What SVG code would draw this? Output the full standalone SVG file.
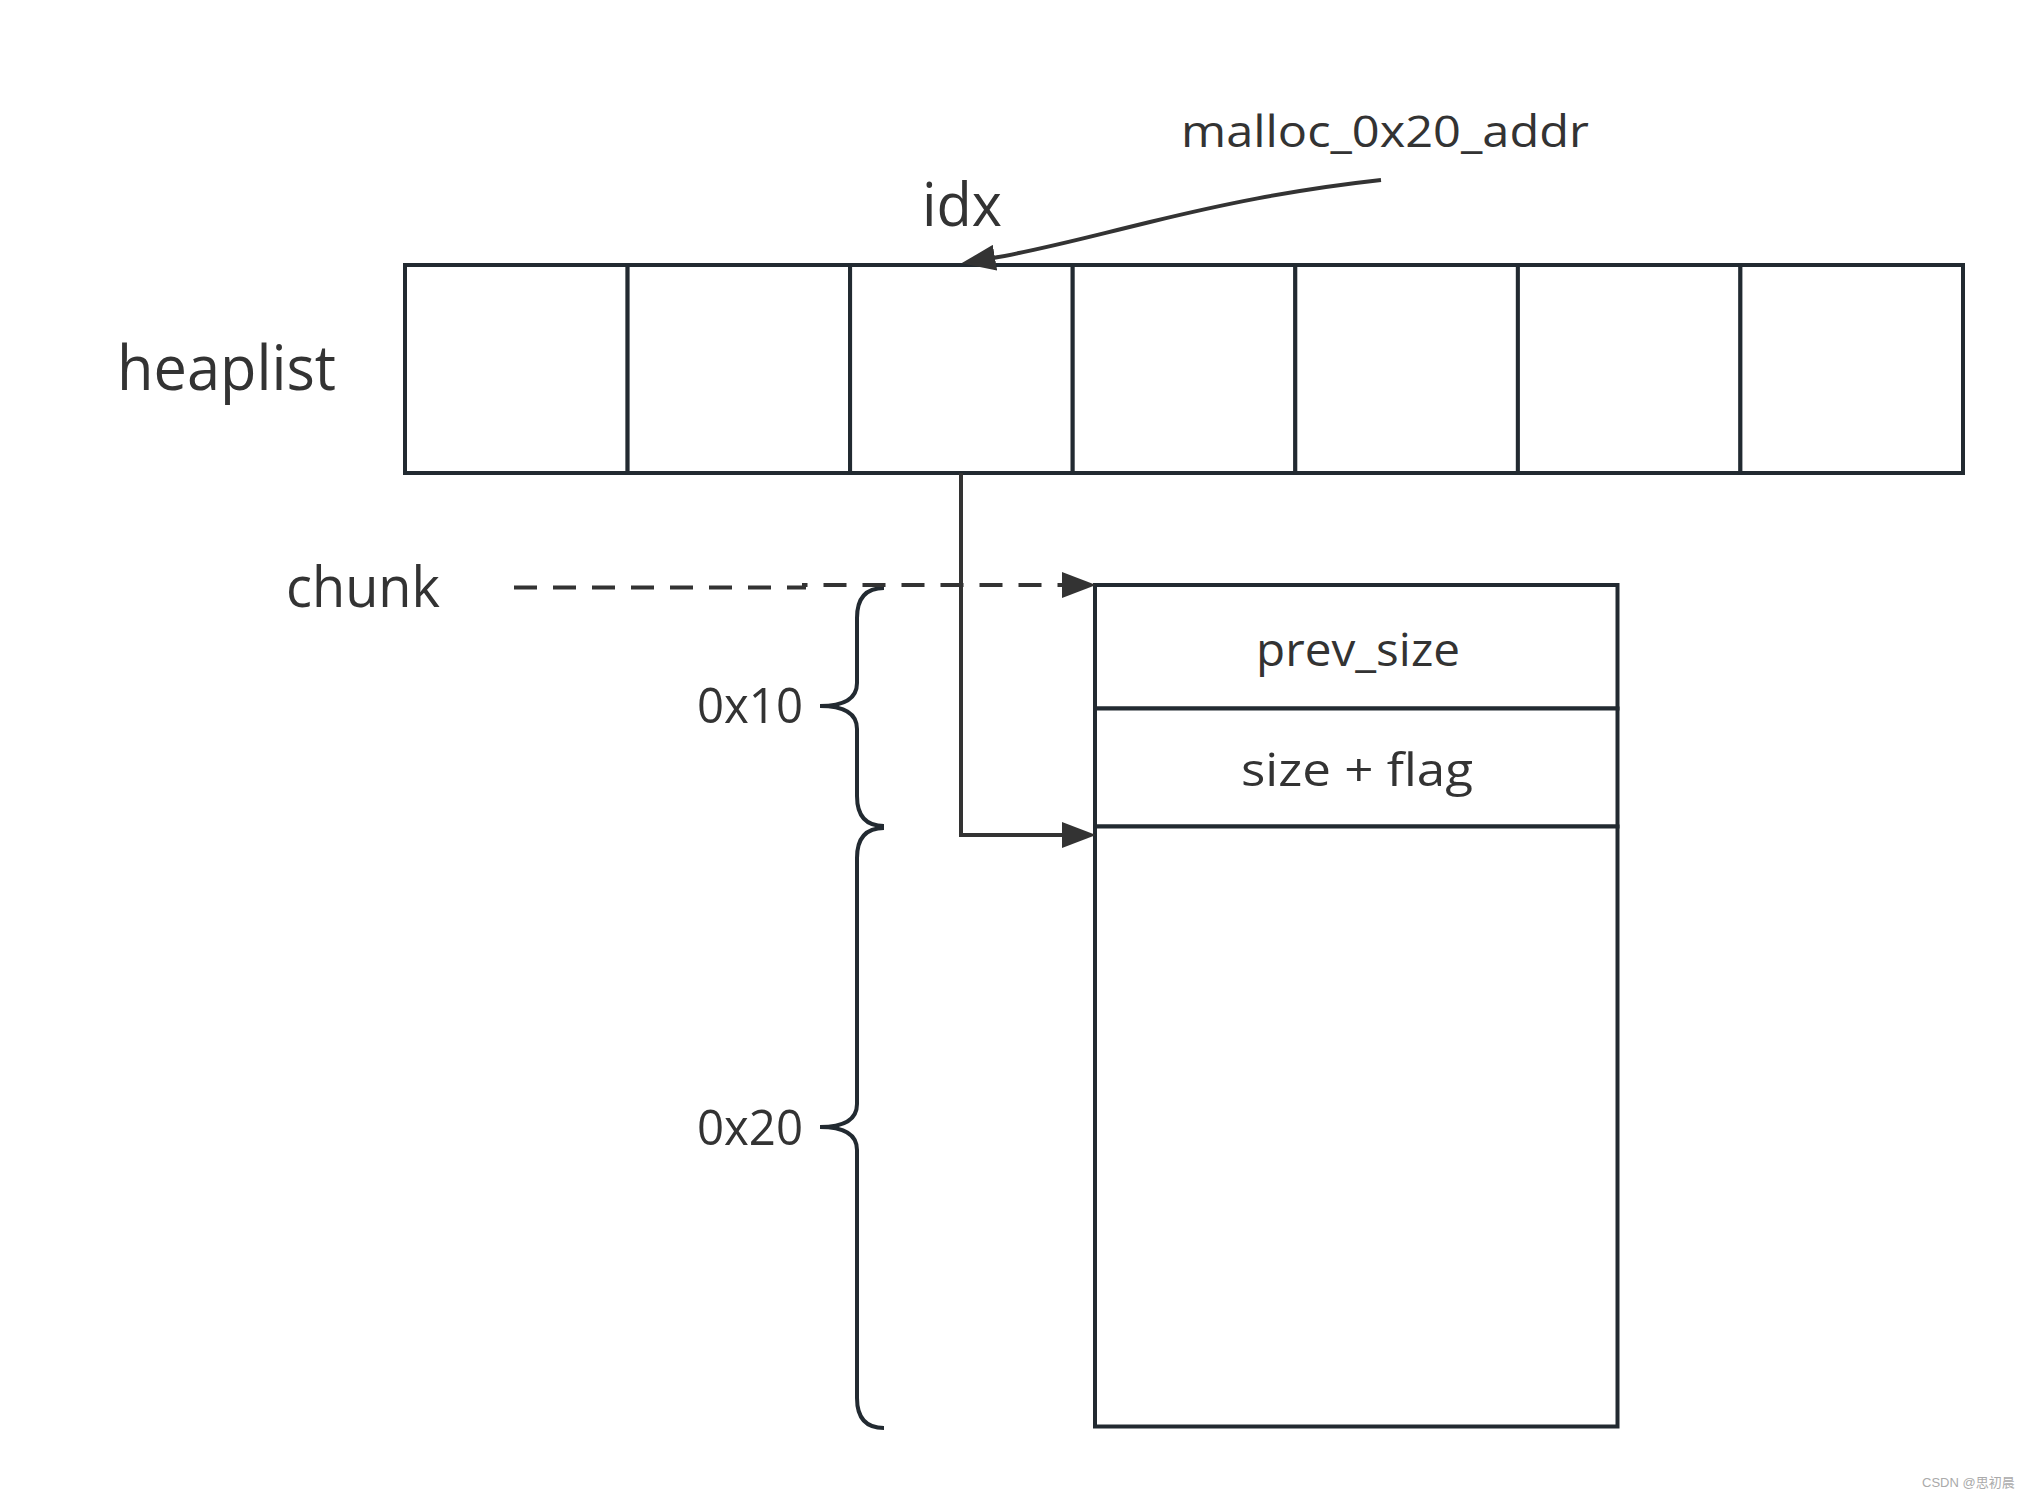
<svg xmlns="http://www.w3.org/2000/svg" width="2037" height="1502" viewBox="0 0 2037 1502">
  <style>
    .cell { fill: #ffffff; stroke: #222a31; stroke-width: 4; }
    .lbl { font-family: "Open Sans", "Noto Sans", "Liberation Sans", sans-serif; fill: #333333; }
    .conn { fill: none; stroke: #333333; stroke-width: 4; }
    .brace { fill: none; stroke: #222a31; stroke-width: 4; }
  </style>
  <defs>
    <marker id="arrow" viewBox="0 0 36 26" refX="2" refY="13" markerWidth="36" markerHeight="26" markerUnits="userSpaceOnUse" orient="auto">
      <path d="M0,0 L34,13 L0,26 z" fill="#333333"/>
    </marker>
  </defs>
  <rect width="2037" height="1502" fill="#ffffff"/>

  <g id="heaplist-label"><text class="lbl" x="117" y="390" font-size="62" textLength="219" lengthAdjust="spacingAndGlyphs">heaplist</text></g>
  <g id="idx-label"><text class="lbl" x="922" y="226" font-size="60" textLength="80" lengthAdjust="spacingAndGlyphs">idx</text></g>
  <g id="malloc-label"><text class="lbl" x="1181" y="147" font-size="43" textLength="408" lengthAdjust="spacingAndGlyphs">malloc_0x20_addr</text></g>
  <g id="chunk-label"><text class="lbl" x="286" y="607" font-size="56" textLength="154" lengthAdjust="spacingAndGlyphs">chunk</text></g>

  <g id="heaplist">
    <g id="cell0"><rect class="cell" x="405" y="265" width="222.6" height="208"/></g>
    <g id="cell1"><rect class="cell" x="627.6" y="265" width="222.5" height="208"/></g>
    <g id="cell2"><rect class="cell" x="850.1" y="265" width="222.6" height="208"/></g>
    <g id="cell3"><rect class="cell" x="1072.7" y="265" width="222.6" height="208"/></g>
    <g id="cell4"><rect class="cell" x="1295.3" y="265" width="222.6" height="208"/></g>
    <g id="cell5"><rect class="cell" x="1517.9" y="265" width="222.5" height="208"/></g>
    <g id="cell6"><rect class="cell" x="1740.4" y="265" width="222.6" height="208"/></g>
  </g>

  <g id="chunk">
    <g id="prev_size"><rect class="cell" x="1095" y="585" width="522.5" height="123.5"/>
      <text class="lbl" x="1256" y="666" font-size="46" textLength="204" lengthAdjust="spacingAndGlyphs">prev_size</text></g>
    <g id="size_flag"><rect class="cell" x="1095" y="708.5" width="522.5" height="118"/>
      <text class="lbl" x="1241" y="786" font-size="46" textLength="232" lengthAdjust="spacingAndGlyphs">size + flag</text></g>
    <g id="user_data"><rect class="cell" x="1095" y="826.5" width="522.5" height="600"/></g>
  </g>

  <g id="brace-0x10">
    <path class="brace" d="M884 588 Q857 588 857 618 L857 683 Q857 706 820 706 Q857 706 857 729 L857 796 Q857 826 884 826"/>
    <text class="lbl" x="697" y="723" font-size="49" textLength="106" lengthAdjust="spacingAndGlyphs">0x10</text>
  </g>
  <g id="brace-0x20">
    <path class="brace" d="M884 828 Q857 828 857 858 L857 1104 Q857 1127 820 1127 Q857 1127 857 1150 L857 1398 Q857 1428 884 1428"/>
    <text class="lbl" x="697" y="1145" font-size="50" textLength="106" lengthAdjust="spacingAndGlyphs">0x20</text>
  </g>

  <g id="connectors">
    <path class="conn" d="M1381 180 C1290 190 1220 205 1150 222 S1040 250 993 258" marker-end="url(#arrow)"/>
    <path class="conn" d="M961 473 V835 H1064" marker-end="url(#arrow)"/>
    <path class="conn" stroke-dasharray="23 16" d="M514 587.5 H804 V585 H1064" marker-end="url(#arrow)"/>
  </g>

  <text x="1922" y="1487" font-family="Liberation Sans, Noto Sans CJK SC, sans-serif" font-size="13" fill="#aaaaaa">CSDN @思初晨</text>
</svg>
